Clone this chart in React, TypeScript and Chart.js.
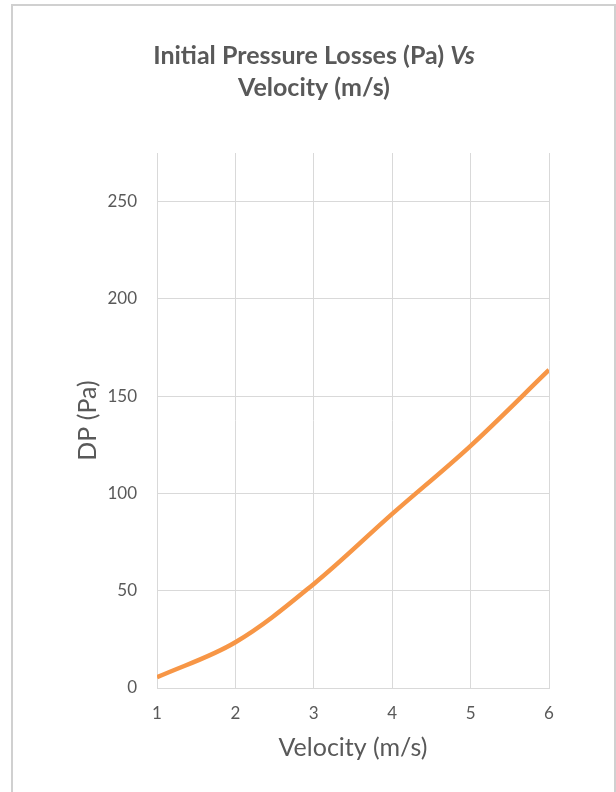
import React, { useEffect, useRef } from "react";
import { Chart, registerables } from "chart.js";

Chart.register(...registerables);

// ---- data ----
const velocity = [1, 2, 3, 4, 5, 6];
const dp = [5.5, 23.5, 53.5, 89.5, 124.5, 163.5];
const yTickValues = [0, 50, 100, 150, 200, 250];
const xTickValues = [1, 2, 3, 4, 5, 6];
const titleMain = "Initial Pressure Losses (Pa) ";
const titleItalic = "Vs";
const titleLine2 = "Velocity (m/s)";
const xAxisTitle = "Velocity (m/s)";
const yAxisTitle = "DP (Pa)";

const TEXT = "#595959";
const GRID = "#d9d9d9";
const LINE = "#f79646";
const FONT = "Lato, 'Open Sans', sans-serif";

const titlePlugin = {
  id: "mixedTitle",
  afterDraw(chart: any) {
    const ctx = chart.ctx as CanvasRenderingContext2D;
    ctx.save();
    ctx.fillStyle = TEXT;
    ctx.textBaseline = "alphabetic";
    ctx.textAlign = "left";
    const fb = `bold 25px ${FONT}`;
    const fi = `italic bold 25px ${FONT}`;
    ctx.font = fb;
    const w1 = ctx.measureText(titleMain).width;
    ctx.font = fi;
    const w2 = ctx.measureText(titleItalic).width;
    const cx = 314;
    const x = cx - (w1 + w2) / 2;
    ctx.font = fb;
    ctx.fillText(titleMain, x, 64);
    ctx.font = fi;
    ctx.fillText(titleItalic, x + w1, 64);
    ctx.font = fb;
    ctx.textAlign = "center";
    ctx.fillText(titleLine2, cx, 96);
    ctx.restore();
  },
};

export default function App() {
  const ref = useRef<HTMLCanvasElement | null>(null);

  useEffect(() => {
    if (!ref.current) return;
    const chart = new Chart(ref.current, {
      type: "line",
      data: {
        datasets: [
          {
            data: velocity.map((v, i) => ({ x: v, y: dp[i] })),
            borderColor: LINE,
            borderWidth: 4.5,
            pointRadius: 0,
            tension: 0.35,
            fill: false,
          },
        ],
      },
      options: {
        animation: false,
        responsive: false,
        layout: { padding: { top: 153, right: 67, bottom: 0, left: 0 } },
        plugins: {
          legend: { display: false },
          tooltip: { enabled: false },
          title: { display: false },
        },
        scales: {
          x: {
            type: "linear",
            min: 1,
            max: 6,
            afterBuildTicks: (s: any) => {
              s.ticks = xTickValues.map((v) => ({ value: v }));
            },
            afterFit: (s: any) => {
              s.height = 104;
            },
            grid: { color: GRID, lineWidth: 1, drawTicks: false },
            border: { color: GRID, width: 1 },
            ticks: {
              color: TEXT,
              font: { family: FONT, size: 17 },
              padding: 15,
              maxRotation: 0,
            },
            title: {
              display: true,
              text: xAxisTitle,
              color: TEXT,
              font: { family: FONT, size: 25 },
              padding: { top: 0, bottom: 29 },
            },
          },
          y: {
            type: "linear",
            min: 0,
            max: 275,
            afterBuildTicks: (s: any) => {
              s.ticks = yTickValues.map((v) => ({ value: v }));
            },
            afterFit: (s: any) => {
              s.width = 157;
            },
            grid: { color: GRID, lineWidth: 1, drawTicks: false },
            border: { color: GRID, width: 1 },
            ticks: {
              color: TEXT,
              font: { family: FONT, size: 17 },
              padding: 20,
            },
            title: {
              display: true,
              text: yAxisTitle,
              color: TEXT,
              font: { family: FONT, size: 25 },
              padding: { top: 73, bottom: 0 },
            },
          },
        },
      },
      plugins: [titlePlugin],
    });
    return () => chart.destroy();
  }, []);

  return (
    <div style={{ position: "fixed", left: 0, top: 0, width: 616, height: 792, background: "#fff", overflow: "hidden" }}>
      <div
        style={{
          position: "absolute",
          left: 11,
          top: 4,
          width: 601,
          height: 820,
          border: "2px solid #d0d0d0",
        }}
      />
      <canvas ref={ref} width={616} height={792} style={{ position: "absolute", left: 0, top: 0, width: 616, height: 792 }} />
    </div>
  );
}
